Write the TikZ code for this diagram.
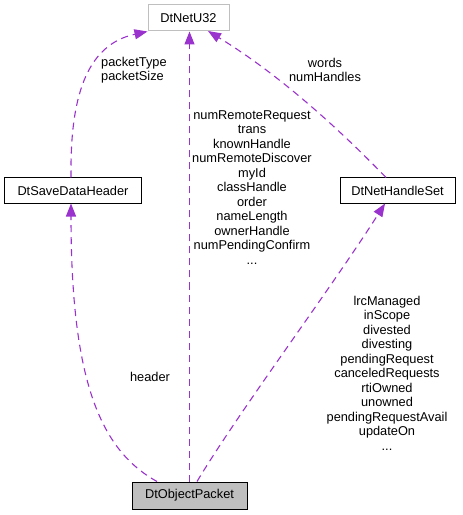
\documentclass[tikz,border=0pt]{standalone}
\usepackage{fontspec}
\setmainfont{Liberation Sans}
\usetikzlibrary{arrows.meta}
\definecolor{edgec}{HTML}{9A32CD}
\definecolor{grayb}{HTML}{BFBFBF}
\begin{document}
\begin{tikzpicture}[x=1bp,y=-1bp,
  cls/.style={draw=black,line width=1bp,rectangle,inner sep=0pt,font=\fontsize{12.8bp}{14.5bp}\selectfont},
  edge/.style={draw=edgec,line width=1.1bp,dash pattern=on 7bp off 5bp,-{Triangle[length=13bp,width=10bp,fill=edgec]}},
  lbl/.style={font=\fontsize{12.8bp}{14.5bp}\selectfont,align=center,inner sep=0pt}]
\useasboundingbox (0,0) rectangle (463,515);
\node[cls,draw=grayb,minimum width=81bp,minimum height=26bp] (u32) at (188.5,18) {DtNetU32};
\node[cls,minimum width=136bp,minimum height=25bp] (sdh) at (73,190.5) {DtSaveDataHeader};
\node[cls,minimum width=115bp,minimum height=25bp] (nhs) at (397.5,190.5) {DtNetHandleSet};
\node[cls,fill=grayb,minimum width=115bp,minimum height=27bp] (op) at (189.5,495.5) {DtObjectPacket};
% edges
\draw[edge] (sdh.north -| 71,0) .. controls (70,100) and (85,45) .. (u32.south west);
\draw[edge] (op.north -| 189.5,0) -- (u32.south -| 189.5,0);
\draw[edge] (nhs.north -| 386,0) .. controls (340,130) and (280,75) .. (208,31);
\draw[edge] (op.north -| 157,0) .. controls (100,450) and (71,380) .. (sdh.south -| 71,0);
\draw[edge] (op.north -| 197,0) .. controls (240,410) and (330,290) .. (nhs.south -| 385,0);
% labels
\node[lbl,align=left,anchor=west] (l1) at (101,70) {packetType\\packetSize};
\node[lbl] (l2) at (325,70) {words\\numHandles};
\node[lbl,anchor=north] (l3) at (252,110) {numRemoteRequest\\trans\\knownHandle\\numRemoteDiscover\\myId\\classHandle\\order\\nameLength\\ownerHandle\\numPendingConfirm\\...};
\node[lbl] (l4) at (150,377) {header};
\node[lbl,anchor=north] (l5) at (387,296) {lrcManaged\\inScope\\divested\\divesting\\pendingRequest\\canceledRequests\\rtiOwned\\unowned\\pendingRequestAvail\\updateOn\\...};
\end{tikzpicture}
\end{document}
